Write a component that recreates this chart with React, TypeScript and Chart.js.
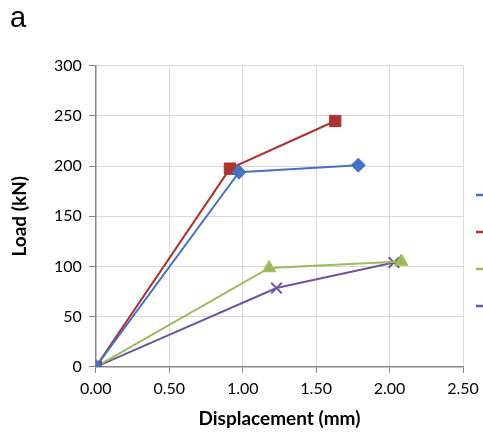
import React, { useEffect, useRef } from "react";
import { Chart, registerables } from "chart.js";

Chart.register(...registerables);

const seriesNames = ["Specimen 1", "Specimen 2", "Specimen 3", "Specimen 4"];
const blueX = [0, 0.975, 1.787];
const blueY = [0, 194, 201];
const redX = [0, 0.913, 1.63];
const redY = [0, 197.5, 245];
const greenX = [0, 1.18, 2.08];
const greenY = [0, 98.5, 105];
const purpleX = [0, 1.23, 2.03];
const purpleY = [0, 78.5, 104];
const xTicks = [0, 0.5, 1.0, 1.5, 2.0, 2.5];
const yTicks = [0, 50, 100, 150, 200, 250, 300];

const pts = (xs: number[], ys: number[]) => xs.map((x, i) => ({ x, y: ys[i] }));

export default function App() {
  const ref = useRef<HTMLCanvasElement | null>(null);
  useEffect(() => {
    if (!ref.current) return;
    const font = "Lato, 'Open Sans', sans-serif";
    const mk = (label: string, data: any, color: string, fill: string, style: string, r: number) => ({
      label,
      data,
      showLine: true,
      borderColor: color,
      backgroundColor: fill,
      pointBackgroundColor: fill,
      pointBorderColor: color,
      pointStyle: style,
      pointRadius: r,
      pointHoverRadius: r,
      borderWidth: 2,
      pointBorderWidth: style === "crossRot" ? 2 : 1,
    });
    const defaultLabels = Chart.defaults.plugins.legend.labels.generateLabels;
    const chart = new Chart(ref.current, {
      type: "scatter",
      data: {
        datasets: [
          mk(seriesNames[0], pts(blueX, blueY), "#4472C4", "#4472C4", "rectRot", 7),
          mk(seriesNames[1], pts(redX, redY), "#B0312E", "#A83532", "rect", 8),
          mk(seriesNames[2], pts(greenX, greenY), "#9BBB59", "#9BBB59", "triangle", 7.5),
          mk(seriesNames[3], pts(purpleX, purpleY), "#7054A0", "#7054A0", "crossRot", 7.5),
        ] as any,
      },
      options: {
        animation: false,
        responsive: true,
        maintainAspectRatio: false,
        layout: { padding: { left: 10, right: 0, top: 0, bottom: 0 } },
        plugins: {
          title: {
            display: true,
            text: "a",
            align: "start",
            color: "#000",
            font: { family: "'Liberation Sans', Arial, sans-serif", size: 29, weight: "normal" },
            padding: { top: 2, bottom: 29 },
          },
          legend: {
            display: true,
            position: "right",
            align: "center",
            fullSize: false,
            maxWidth: 60,
            title: { display: true, text: " ", padding: 27, font: { size: 12 } },
            labels: {
              usePointStyle: true,
              pointStyle: "line",
              pointStyleWidth: 20,
              padding: 13,
              color: "#000",
              font: { family: font, size: 24 },
              generateLabels: (c: any) =>
                defaultLabels(c).map((l: any) => ({ ...l, lineWidth: 2.5, strokeStyle: c.data.datasets[l.datasetIndex].borderColor })),
            },
          },
          tooltip: { enabled: false },
        },
        scales: {
          x: {
            type: "linear",
            min: 0,
            max: 2.5,
            afterBuildTicks: (s: any) => { s.ticks = xTicks.map((v) => ({ value: v })); },
            ticks: {
              callback: (v: any) => Number(v).toFixed(2),
              color: "#000",
              font: { family: font, size: 16 },
              padding: 6,
              maxRotation: 0,
            },
            grid: { color: "#D9D9D9", tickColor: "#868686", tickLength: 6, lineWidth: 1 },
            border: { color: "#868686", width: 1.5 },
            title: {
              display: true,
              text: "Displacement (mm)",
              color: "#000",
              font: { family: font, size: 19, weight: "bold", lineHeight: 1 },
              padding: { top: 5, bottom: 10 },
            },
          },
          y: {
            type: "linear",
            min: 0,
            max: 300,
            afterBuildTicks: (s: any) => { s.ticks = yTicks.map((v) => ({ value: v })); },
            ticks: {
              color: "#000",
              font: { family: font, size: 16 },
              padding: 7,
            },
            grid: { color: "#D9D9D9", tickColor: "#868686", tickLength: 7, lineWidth: 1 },
            border: { color: "#868686", width: 1.5 },
            title: {
              display: true,
              text: "Load (kN)",
              color: "#000",
              font: { family: font, size: 19, weight: "bold", lineHeight: 1 },
              padding: { top: 0, bottom: 18 },
            },
          },
        },
      } as any,
    });
    return () => chart.destroy();
  }, []);
  return (
    <div style={{ position: "fixed", left: 0, top: 0, width: 483, height: 438, overflow: "hidden", background: "#fff" }}>
      <div style={{ position: "relative", width: 523, height: 438 }}>
        <canvas ref={ref} />
      </div>
    </div>
  );
}
